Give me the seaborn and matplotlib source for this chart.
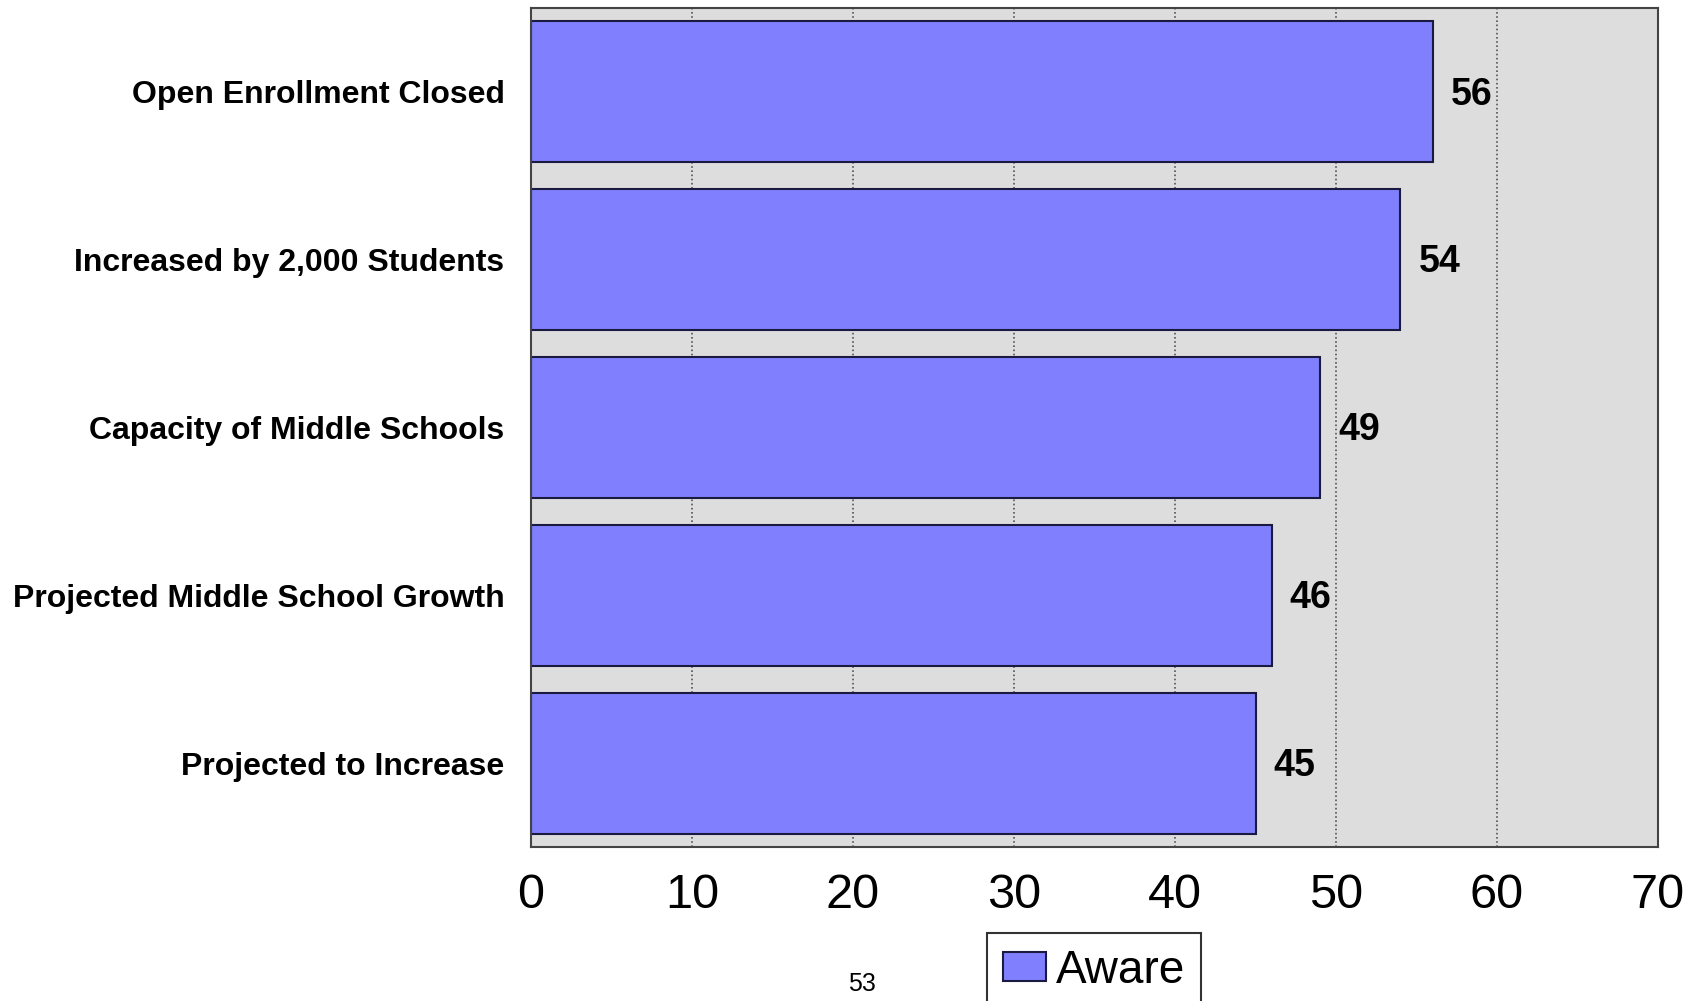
import matplotlib
matplotlib.use("Agg")
import matplotlib.pyplot as plt
import seaborn as sns
import pandas as pd
from matplotlib.patches import Patch

categories = ["Open Enrollment Closed", "Increased by 2,000 Students",
              "Capacity of Middle Schools", "Projected Middle School Growth",
              "Projected to Increase"]
aware = [56, 54, 49, 46, 45]
x_ticks = [0, 10, 20, 30, 40, 50, 60, 70]
series_name = "Aware"
page_number = "53"

sns.set_style("white")
plt.rcParams['font.family'] = ['Liberation Sans', 'DejaVu Sans']
plt.rcParams['text.color'] = 'black'
plt.rcParams['xtick.color'] = 'black'
plt.rcParams['ytick.color'] = 'black'

df = pd.DataFrame({"category": categories, "value": aware})

fig = plt.figure(figsize=(17, 10.01), dpi=100)
ax = fig.add_axes([531/1700, 1-847/1001, (1658-531)/1700, (847-8)/1001])
ax.set_facecolor("#DDDDDD")

ax.set_axisbelow(True)
ax.grid(axis="x", color="#555555", linestyle=(0, (1, 1.5)), linewidth=1.2)
ax.grid(axis="y", visible=False)

sns.barplot(data=df, x="value", y="category", orient="h", color="#8080FF",
            saturation=1, width=0.84, edgecolor="#1a1a40", linewidth=1.5, ax=ax)

ax.set_xlim(0, 70)
ax.set_ylim(4.5, -0.5)
ax.set_xticks(x_ticks)
ax.set_xticklabels([str(t) for t in x_ticks], fontsize=35, color="black")
ax.tick_params(axis="x", length=0, pad=19)
ax.tick_params(axis="y", length=0, pad=19, labelsize=23)
for lbl in ax.get_yticklabels():
    lbl.set_fontweight("bold")
    lbl.set_color("black")
ax.set_xlabel("")
ax.set_ylabel("")

for s in ax.spines.values():
    s.set_color("#444444")
    s.set_linewidth(1.5)
    s.set_visible(True)

for cont in ax.containers:
    txts = ax.bar_label(cont, labels=[str(v) for v in aware], padding=13,
                        fontsize=27, fontweight="bold", color="black")
    for t in txts:
        x0, y0 = t.xyann
        t.xyann = (x0, y0 - 2)

handle = Patch(facecolor="#8080FF", edgecolor="#1a1a40", linewidth=1.5)
leg = fig.legend([handle], [series_name], loc="upper left",
                 bbox_to_anchor=(987/1700, 1-933/1001), fontsize=33,
                 frameon=True, fancybox=False, edgecolor="black",
                 handlelength=0.93, handleheight=0.6, handletextpad=0.22,
                 borderpad=0.35, borderaxespad=0)
leg.get_frame().set_linewidth(1.5)
for t in leg.get_texts():
    t.set_color("black")

fig.text(862/1700, 1-984/1001, page_number, fontsize=18, ha="center", va="center",
         color="black")

fig.savefig("out.png", dpi=100)
